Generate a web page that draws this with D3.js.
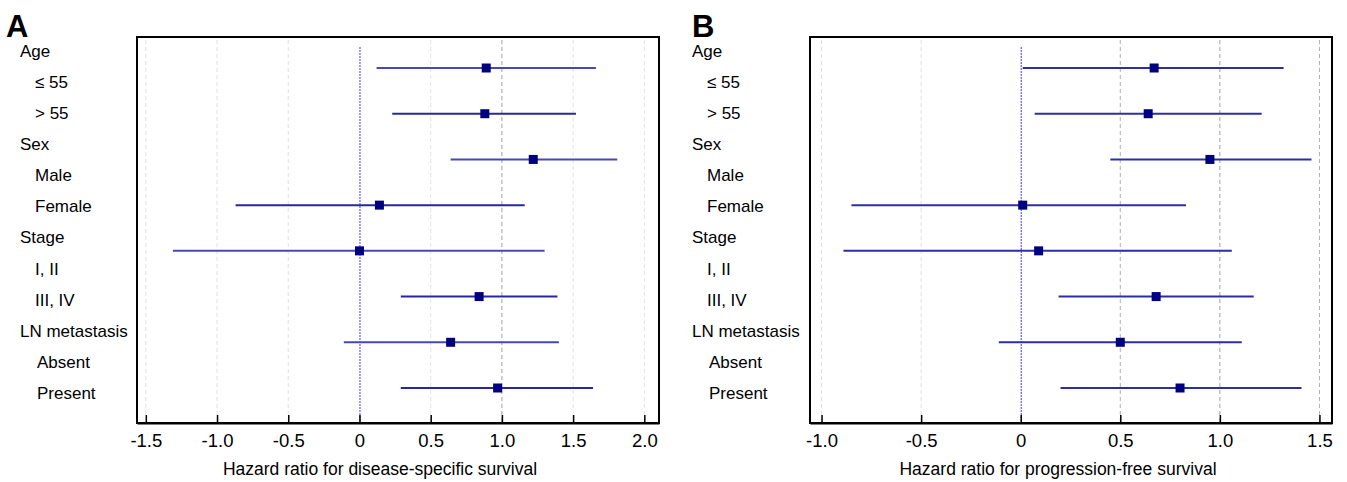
<!DOCTYPE html>
<html>
<head>
<meta charset="utf-8">
<script src="https://cdn.jsdelivr.net/npm/d3@7"></script>
<style>
  body { margin: 0; background: #fff; }
  svg { display: block; font-family: "Liberation Sans", Arial, sans-serif; }
</style>
</head>
<body>
<div class="container"></div>
<script>
// row labels (left column), shared by both panels
const labels = ['Age', '\u2264 55', '> 55', 'Sex', 'Male', 'Female', 'Stage', 'I, II', 'III, IV', 'LN metastasis', 'Absent', 'Present'];
const labelLevel = [0, 1, 1, 0, 1, 1, 0, 1, 1, 0, 2, 2];
const rows = ['\u2264 55', '> 55', 'Male', 'Female', 'I, II', 'III, IV', 'Absent', 'Present'];

// panel A - disease-specific survival
const dssEst = [0.89, 0.88, 1.22, 0.14, 0.00, 0.84, 0.64, 0.97];
const dssLow = [0.12, 0.23, 0.64, -0.87, -1.31, 0.29, -0.11, 0.29];
const dssHigh = [1.66, 1.52, 1.81, 1.16, 1.30, 1.39, 1.40, 1.64];
const dssTicks = [-1.5, -1.0, -0.5, 0, 0.5, 1.0, 1.5, 2.0];

// panel B - progression-free survival
const pfsEst = [0.67, 0.64, 0.95, 0.01, 0.09, 0.68, 0.50, 0.80];
const pfsLow = [0.01, 0.07, 0.45, -0.85, -0.89, 0.19, -0.11, 0.20];
const pfsHigh = [1.32, 1.21, 1.46, 0.83, 1.06, 1.17, 1.11, 1.41];
const pfsTicks = [-1.0, -0.5, 0, 0.5, 1.0, 1.5];

const W = 1347, H = 482;
const svg = d3.select('.container').append('svg')
    .attr('width', W)
    .attr('height', H)
    .attr('viewBox', [0, 0, W, H]);

// plain hyphen for negatives, like the original figure
const fmt = d => d === 0 ? '0' : d.toFixed(1);

function panel(opt) {
    const g = svg.append('g').attr('transform', `translate(${opt.x0},0)`);
    const left = 137, right = 659, top = 37, bottom = 423;

    const x = d3.scaleLinear().domain(opt.domain).range([left, right]);
    const yRow = d3.scalePoint().domain(rows).range([68, 388]);
    const yLab = d3.scalePoint().domain(labels).range([51, 393]);

    // panel letter
    g.append('text')
        .attr('x', opt.letterX)
        .attr('y', 37)
        .style('font-size', '31px')
        .style('font-weight', 'bold')
        .text(opt.letter);

    // row labels
    g.selectAll('.lab')
        .data(labels)
        .join('text')
        .attr('class', 'lab')
        .attr('x', (d, i) => opt.labX + [0, 15, 17][labelLevel[i]])
        .attr('y', d => yLab(d))
        .attr('dy', '0.35em')
        .style('font-size', '17px')
        .text(d => d);

    // grid lines
    g.selectAll('.grid')
        .data(opt.ticks.filter(t => t !== 0))
        .join('line')
        .attr('class', 'grid')
        .attr('x1', d => x(d)).attr('x2', d => x(d))
        .attr('y1', top + 3).attr('y2', bottom)
        .attr('stroke', d => d === 1 ? '#a0a0a0' : opt.gridColor(d))
        .attr('stroke-width', 1)
        .attr('stroke-dasharray', '4,3');

    // zero reference line
    g.append('line')
        .attr('x1', x(0) + 0.5).attr('x2', x(0) + 0.5)
        .attr('y1', top + 10).attr('y2', bottom)
        .attr('stroke', '#3c3cf0')
        .attr('stroke-width', 1)
        .attr('stroke-dasharray', '2,1');

    // confidence intervals
    g.selectAll('.ci')
        .data(rows)
        .join('line')
        .attr('class', 'ci')
        .attr('x1', (d, i) => x(opt.low[i]))
        .attr('x2', (d, i) => x(opt.high[i]))
        .attr('y1', d => yRow(d)).attr('y2', d => yRow(d))
        .attr('stroke', (d, i) => opt.ciColor(i))
        .attr('stroke-width', 2);

    // point estimates
    const s = 9;
    g.selectAll('.est')
        .data(rows)
        .join('rect')
        .attr('class', 'est')
        .attr('x', (d, i) => x(opt.est[i]) - s / 2)
        .attr('y', d => yRow(d) - s / 2)
        .attr('width', s).attr('height', s)
        .attr('fill', '#00007f');

    // frame
    g.append('rect')
        .attr('x', left).attr('y', top)
        .attr('width', right - left).attr('height', bottom - top)
        .attr('fill', 'none')
        .attr('stroke', '#000')
        .attr('stroke-width', 2);

    // x axis, ticks pointing inward
    const axis = g.append('g')
        .attr('transform', `translate(0,${bottom})`)
        .call(d3.axisBottom(x)
            .tickValues(opt.ticks)
            .tickSizeInner(-8)
            .tickSizeOuter(0)
            .tickPadding(11)
            .tickFormat(fmt));
    axis.select('.domain').attr('stroke-width', 2);
    axis.selectAll('.tick line').attr('stroke-width', 1.5);
    axis.selectAll('.tick text')
        .style('font-size', '18.5px')
        .style('font-family', '"Liberation Sans", Arial, sans-serif')
        .attr('fill', '#000');

    g.append('text')
        .attr('x', opt.titleX)
        .attr('y', 475)
        .attr('text-anchor', 'middle')
        .style('font-size', '17.5px')
        .text(opt.title);
}

panel({
    x0: 0,
    letter: 'A',
    letterX: 6,
    labX: 20,
    domain: [-1.562, 2.103],
    ticks: dssTicks,
    est: dssEst, low: dssLow, high: dssHigh,
    title: 'Hazard ratio for disease-specific survival',
    titleX: 380,
    gridColor: () => '#e2e2e2',
    ciColor: i => i % 2 === 0 ? '#4848b4' : '#27279e'
});

panel({
    x0: 673,
    letter: 'B',
    letterX: 19,
    labX: 19,
    domain: [-1.058, 1.563],
    ticks: pfsTicks,
    est: pfsEst, low: pfsLow, high: pfsHigh,
    title: 'Hazard ratio for progression-free survival',
    titleX: 385,
    gridColor: d => d > 0 ? '#b0b0b0' : '#dedede',
    ciColor: () => '#2e2ea4'
});
</script>
</body>
</html>
